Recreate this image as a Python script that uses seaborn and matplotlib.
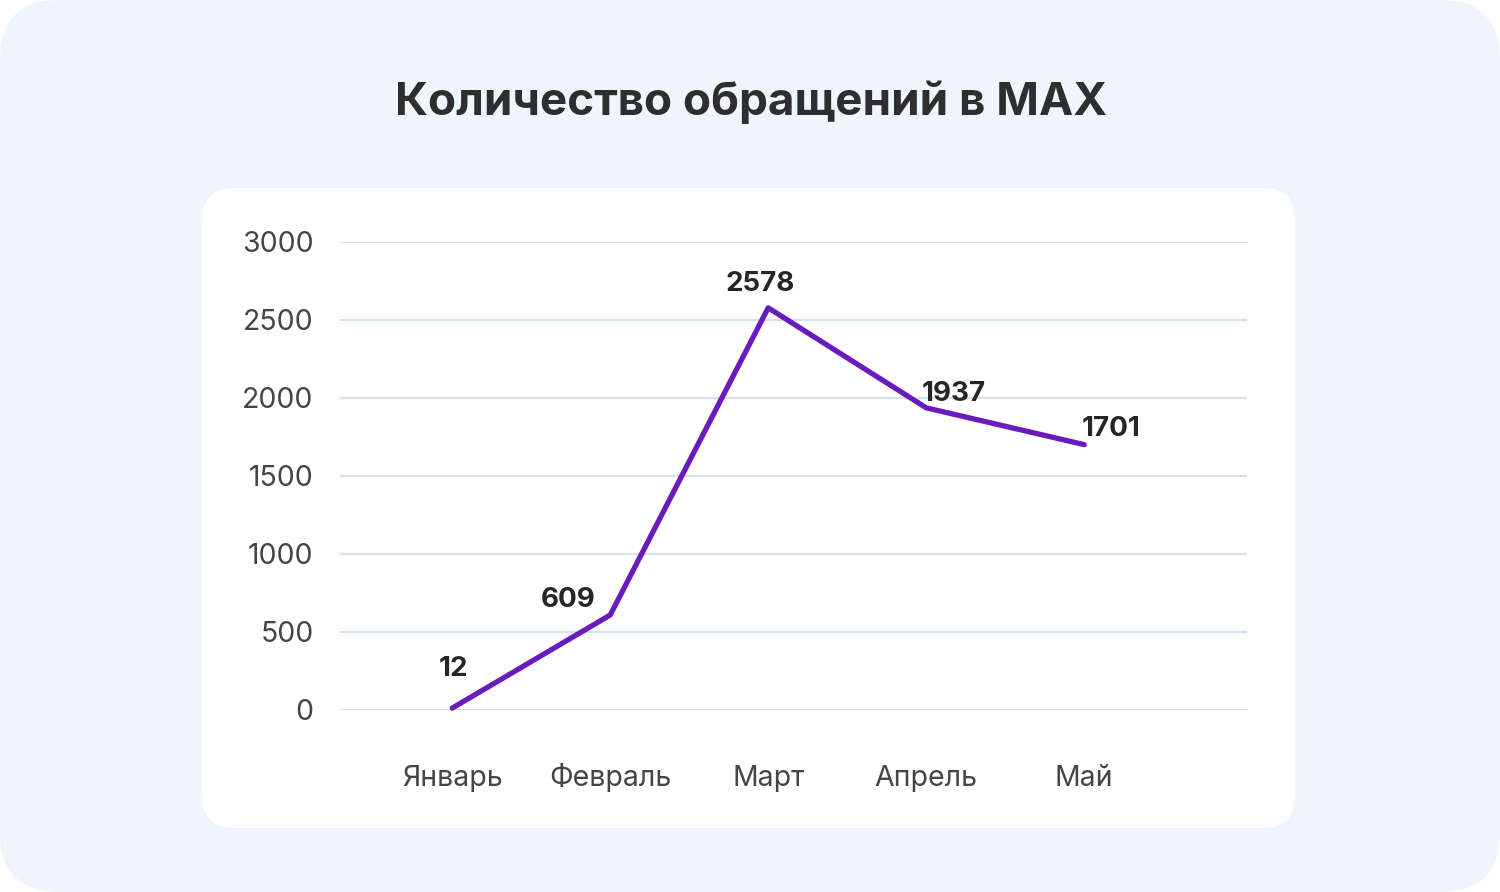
import matplotlib
matplotlib.use("Agg")
import matplotlib.pyplot as plt
from matplotlib.patches import FancyBboxPatch
import seaborn as sns
import pandas as pd

months = ["Январь", "Февраль", "Март", "Апрель", "Май"]
requests = [12, 609, 2578, 1937, 1701]
y_ticks = [0, 500, 1000, 1500, 2000, 2500, 3000]
title = "Количество обращений в MAX"
# label offsets relative to each point, in points
label_dx = [1, -30, -6, 20, 19]
label_dy = [28, 11, 17, 10, 11]

sns.set_theme(style="white")
plt.rcParams["font.family"] = ["Inter", "DejaVu Sans"]

W, H = 1500, 892
fig = plt.figure(figsize=(W / 100, H / 100), dpi=100, facecolor="white")

bg = fig.add_axes([0, 0, 1, 1], zorder=0)
bg.set_xlim(0, W)
bg.set_ylim(H, 0)
bg.axis("off")
bg.add_patch(FancyBboxPatch((0, 0), W, H, boxstyle="round,pad=0,rounding_size=60",
                            facecolor="#eff5fc", edgecolor="none"))
bg.add_patch(FancyBboxPatch((202, 188), 1093, 640, boxstyle="round,pad=0,rounding_size=32",
                            facecolor="white", edgecolor="none"))

fig.text(751 / W, 1 - 102 / H, title, ha="center", va="center",
         fontsize=33, fontweight="bold", color="#2e2e2e")

ax = fig.add_axes([340 / W, 1 - 710 / H, 907 / W, 468 / H], zorder=1)
ax.patch.set_alpha(0)
df = pd.DataFrame({"month": months, "value": requests})
sns.lineplot(data=df, x="month", y="value", ax=ax, color="#6a1bbd",
             linewidth=3.8, sort=False, clip_on=False)

ax.set_ylim(0, 3000)
ax.set_xlim(-0.71, 5.03)
ax.set_yticks(y_ticks)
ax.set_yticklabels([str(v) for v in y_ticks])
ax.set_xlabel("")
ax.set_ylabel("")
ax.yaxis.grid(True, color="#d5e1ec", linewidth=1.6)
ax.xaxis.grid(False)
ax.set_axisbelow(True)
for s in ax.spines.values():
    s.set_visible(False)
ax.tick_params(axis="y", length=0, pad=19, labelsize=20.5, labelcolor="#454545")
ax.tick_params(axis="x", length=0, pad=55, labelsize=20.5, labelcolor="#454545")
for lbl in ax.get_xticklabels():
    lbl.set_va("baseline")

for i, v in enumerate(requests):
    ax.annotate(str(v), xy=(i, v), xytext=(label_dx[i], label_dy[i]),
                textcoords="offset points", ha="center", va="center",
                fontsize=20, fontweight="bold", color="#262626", annotation_clip=False)

fig.savefig("out.png", dpi=100, facecolor="white")
